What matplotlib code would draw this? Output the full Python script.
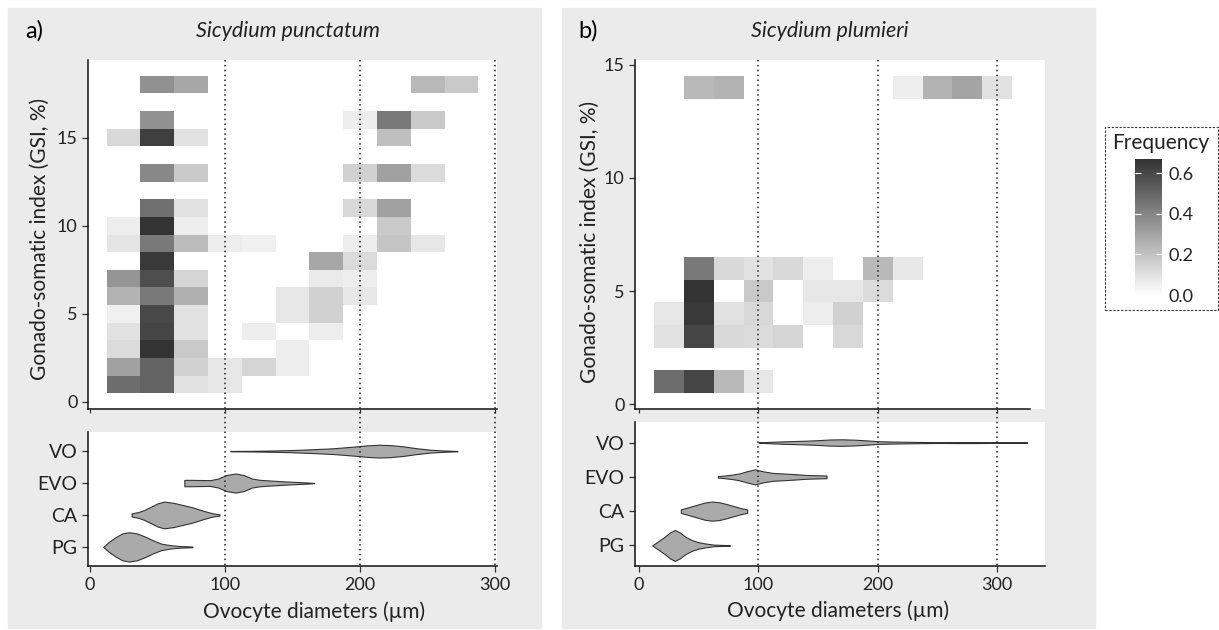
import numpy as np
import matplotlib
matplotlib.use("Agg")
import matplotlib.pyplot as plt
import matplotlib.transforms as mtransforms
from matplotlib.colors import LinearSegmentedColormap
from matplotlib.patches import Rectangle
from matplotlib.lines import Line2D

plt.rcParams['font.family'] = ['Lato', 'DejaVu Sans']

_ = np.nan

# ---- heatmap data: frequency of ovocyte diameter class per GSI class ----
left_diam = [25, 50, 75, 100, 125, 150, 175, 200, 225, 250, 275]
left_gsi = list(range(1, 19))
left_freq = [
    [0.48, 0.51, 0.10, 0.08, _, _, _, _, _, _, _],
    [0.31, 0.51, 0.15, 0.08, 0.14, 0.06, _, _, _, _, _],
    [0.12, 0.67, 0.18, _, _, 0.06, _, _, _, _, _],
    [0.10, 0.61, 0.10, _, 0.06, _, 0.06, _, _, _, _],
    [0.05, 0.60, 0.10, _, _, 0.08, 0.15, _, _, _, _],
    [0.25, 0.44, 0.26, _, _, 0.08, 0.15, 0.08, _, _, _],
    [0.35, 0.58, 0.14, _, _, _, 0.07, 0.06, _, _, _],
    [_, 0.65, _, _, _, _, 0.29, 0.12, _, _, _],
    [0.09, 0.44, 0.22, 0.06, 0.05, _, _, 0.06, 0.19, 0.08, _],
    [0.06, 0.67, 0.06, _, _, _, _, _, 0.18, _, _],
    [_, 0.47, 0.10, _, _, _, _, 0.13, 0.31, _, _],
    [_] * 11,
    [_, 0.39, 0.18, _, _, _, _, 0.15, 0.31, 0.12, _],
    [_] * 11,
    [0.13, 0.63, 0.10, _, _, _, _, _, 0.21, _, _],
    [_, 0.36, _, _, _, _, _, 0.06, 0.44, 0.18, _],
    [_] * 11,
    [_, 0.36, 0.29, _, _, _, _, _, _, 0.23, 0.18],
]

right_diam = [25, 50, 75, 100, 125, 150, 175, 200, 225, 250, 275, 300]
right_gsi = list(range(1, 15))
right_freq = [
    [0.48, 0.61, 0.23, 0.08, _, _, _, _, _, _, _, _],
    [_] * 12,
    [0.10, 0.61, 0.13, 0.12, 0.14, _, 0.13, _, _, _, _, _],
    [0.08, 0.65, 0.10, 0.13, _, 0.06, 0.15, _, _, _, _, _],
    [_, 0.67, _, 0.18, _, 0.08, 0.08, 0.12, _, _, _, _],
    [_, 0.44, 0.13, 0.10, 0.13, 0.06, _, 0.23, 0.08, _, _, _],
    [_] * 12,
    [_] * 12,
    [_] * 12,
    [_] * 12,
    [_] * 12,
    [_] * 12,
    [_] * 12,
    [_, 0.23, 0.25, _, _, _, _, _, 0.06, 0.25, 0.30, 0.10],
]
bin_w = 25

# ---- violin outlines (diameter, half width) read per stage ----
stages = ['PG', 'CA', 'EVO', 'VO']

left_pg_x = [10, 14, 19, 24, 29, 35, 41, 47, 53, 60, 67, 76]
left_pg_w = [0.0, 0.15, 0.3, 0.42, 0.46, 0.42, 0.32, 0.2, 0.1, 0.05, 0.025, 0.01]
left_ca_x = [31, 36, 40, 45, 50, 55, 62, 69, 76, 84, 91, 96]
left_ca_w = [0.05, 0.09, 0.15, 0.25, 0.36, 0.42, 0.38, 0.31, 0.24, 0.13, 0.05, 0.02]
left_evo_x = [70, 75, 82, 89, 95, 101, 108, 114, 120, 126, 135, 145, 155, 166]
left_evo_w = [0.1, 0.1, 0.095, 0.09, 0.14, 0.25, 0.3, 0.25, 0.14, 0.1, 0.075, 0.05, 0.03, 0.005]
left_vo_x = [104, 120, 135, 150, 165, 180, 195, 205, 214, 222, 232, 242, 252, 262, 272]
left_vo_w = [0.005, 0.01, 0.02, 0.035, 0.06, 0.09, 0.14, 0.18, 0.2, 0.19, 0.15, 0.09, 0.045, 0.02, 0.005]

right_pg_x = [11, 16, 21, 26, 30, 34, 39, 44, 49, 55, 62, 69, 76]
right_pg_w = [0.0, 0.12, 0.24, 0.38, 0.45, 0.38, 0.25, 0.16, 0.1, 0.06, 0.025, 0.015, 0.008]
right_ca_x = [35, 40, 45, 50, 55, 61, 67, 73, 79, 85, 90.5]
right_ca_w = [0.05, 0.1, 0.15, 0.2, 0.25, 0.28, 0.26, 0.21, 0.15, 0.09, 0.05]
right_evo_x = [66, 72, 78, 84, 90, 97, 104, 112, 120, 130, 140, 150, 157]
right_evo_w = [0.02, 0.04, 0.065, 0.1, 0.16, 0.22, 0.16, 0.115, 0.1, 0.08, 0.055, 0.045, 0.04]
right_vo_x = [100, 110, 120, 130, 140, 150, 160, 170, 180, 190, 200, 210, 220, 230, 250, 270, 280, 300, 325]
right_vo_w = [0.005, 0.02, 0.035, 0.045, 0.055, 0.07, 0.09, 0.095, 0.085, 0.065, 0.04, 0.03,
              0.025, 0.02, 0.012, 0.015, 0.015, 0.01, 0.005]

ref_lines = [100, 200, 300]
x_ticks = [0, 100, 200, 300]

W, H = 1219, 630
fig = plt.figure(figsize=(W / 100, H / 100), dpi=100)


def rect(x0, y0, x1, y1):
    # pixel box (origin top-left) -> figure fraction
    return [x0 / W, 1 - y1 / H, (x1 - x0) / W, (y1 - y0) / H]


panel_grey = '#EBEBEB'
txt = '#222222'
for x0, x1 in [(8, 541), (562, 1095)]:
    fig.patches.append(Rectangle((x0 / W, 1 - 628 / H), (x1 - x0) / W, 620 / H,
                                 transform=fig.transFigure, color=panel_grey, zorder=-2))

cmap = LinearSegmentedColormap.from_list('freq', ['#FFFFFF', '#333333'])
vmax = 0.67


def style(ax):
    ax.set_facecolor('white')
    for s in ['top', 'right']:
        ax.spines[s].set_visible(False)
    for s in ['left', 'bottom']:
        ax.spines[s].set_color('#111111')
        ax.spines[s].set_linewidth(1.1)
    ax.tick_params(colors='#333333', labelcolor=txt, labelsize=13, length=4, width=0.9)


def heatmap(box, diam, gsi, freq, xlim, ylim, yticks, spine_end):
    ax = fig.add_axes(rect(*box))
    style(ax)
    d = np.array(diam, dtype=float)
    g = np.array(gsi, dtype=float)
    xe = np.append(d - bin_w / 2, d[-1] + bin_w / 2)
    ye = np.append(g - 0.5, g[-1] + 0.5)
    m = ax.pcolormesh(xe, ye, np.ma.masked_invalid(np.array(freq, dtype=float)),
                      cmap=cmap, vmin=0, vmax=vmax)
    ax.set_xlim(*xlim)
    ax.set_ylim(*ylim)
    ax.set_xticks(x_ticks)
    ax.set_xticklabels([])
    ax.tick_params(axis='x', length=3)
    ax.set_yticks(yticks)
    ax.spines['bottom'].set_bounds(xlim[0], spine_end)
    return ax, m


def violins(box, data, xlim):
    ax = fig.add_axes(rect(*box))
    style(ax)
    for i, (xs, ws) in enumerate(data):
        pos = i + 1
        xs = np.array(xs)
        ws = np.array(ws)
        ax.fill_between(xs, pos - ws, pos + ws, facecolor='#AAAAAA',
                        edgecolor='#333333', linewidth=0.8, zorder=3)
    ax.set_xlim(*xlim)
    ax.set_ylim(0.4, 4.6)
    ax.set_yticks(range(1, len(stages) + 1))
    ax.set_yticklabels(stages, fontsize=14)
    ax.set_xticks(x_ticks)
    ax.tick_params(axis='x', pad=4)
    return ax


def ref(ax, y_top, y_bot):
    tr = mtransforms.blended_transform_factory(ax.transData, fig.transFigure)
    for xv in ref_lines:
        fig.lines.append(Line2D([xv, xv], [1 - y_top / H, 1 - y_bot / H], transform=tr,
                                color='#222222', lw=1.1, ls=(0, (1, 2.2)), zorder=5))


# left panel
xl = (-1.25, 301.25)
axh1, mesh = heatmap((88, 60, 497, 409), left_diam, left_gsi, left_freq, xl, (-0.4, 19.4),
                     [0, 5, 10, 15], 301.25)
axv1 = violins((88, 432, 497, 566),
               [(left_pg_x, left_pg_w), (left_ca_x, left_ca_w),
                (left_evo_x, left_evo_w), (left_vo_x, left_vo_w)], xl)
ref(axh1, 60, 568)

# right panel
xr = (-3.4, 340)
axh2, _m = heatmap((635, 60, 1045, 409), right_diam, right_gsi, right_freq, xr, (-0.2, 15.2),
                   [0, 5, 10, 15], 327.5)
axv2 = violins((635, 422, 1045, 566),
               [(right_pg_x, right_pg_w), (right_ca_x, right_ca_w),
                (right_evo_x, right_evo_w), (right_vo_x, right_vo_w)], xr)
ref(axh2, 60, 568)

# labels
ylab = 'Gonado-somatic index (GSI, %)'
fig.text(40 / W, 1 - 239 / H, ylab, rotation=90, ha='center', va='center', fontsize=15, color=txt)
fig.text(590 / W, 1 - 242 / H, ylab, rotation=90, ha='center', va='center', fontsize=15, color=txt)
xlab = 'Ovocyte diameters (\u00b5m)'
fig.text(314 / W, 1 - 612 / H, xlab, ha='center', va='center', fontsize=15, color=txt)
fig.text(838 / W, 1 - 611 / H, xlab, ha='center', va='center', fontsize=15, color=txt)
fig.text(34 / W, 1 - 31 / H, 'a)', ha='center', va='center', fontsize=17, color='black')
fig.text(588 / W, 1 - 31 / H, 'b)', ha='center', va='center', fontsize=17, color='black')
fig.text(288 / W, 1 - 31 / H, 'Sicydium punctatum', ha='center', va='center', fontsize=15.5,
         style='italic', color=txt)
fig.text(830 / W, 1 - 31 / H, 'Sicydium plumieri', ha='center', va='center', fontsize=15.5,
         style='italic', color=txt)

# legend
fig.patches.append(Rectangle((1105 / W, 1 - 310 / H), 113 / W, 183 / H, transform=fig.transFigure,
                             facecolor='white', edgecolor='#333333', lw=0.8, ls=(0, (2, 1.5)),
                             zorder=-1))
fig.text(1161 / W, 1 - 143 / H, 'Frequency', ha='center', va='center', fontsize=15, color=txt)
cax = fig.add_axes(rect(1135, 159, 1162, 295))
cb = fig.colorbar(mesh, cax=cax, ticks=[0, 0.2, 0.4, 0.6])
cb.outline.set_visible(False)
cb.ax.set_yticklabels(['0.0', '0.2', '0.4', '0.6'])
cax.tick_params(direction='in', length=4, color='white', width=0.8, left=True, right=True,
                labelsize=13, labelcolor=txt, pad=5)

fig.savefig('out.png', dpi=100)
